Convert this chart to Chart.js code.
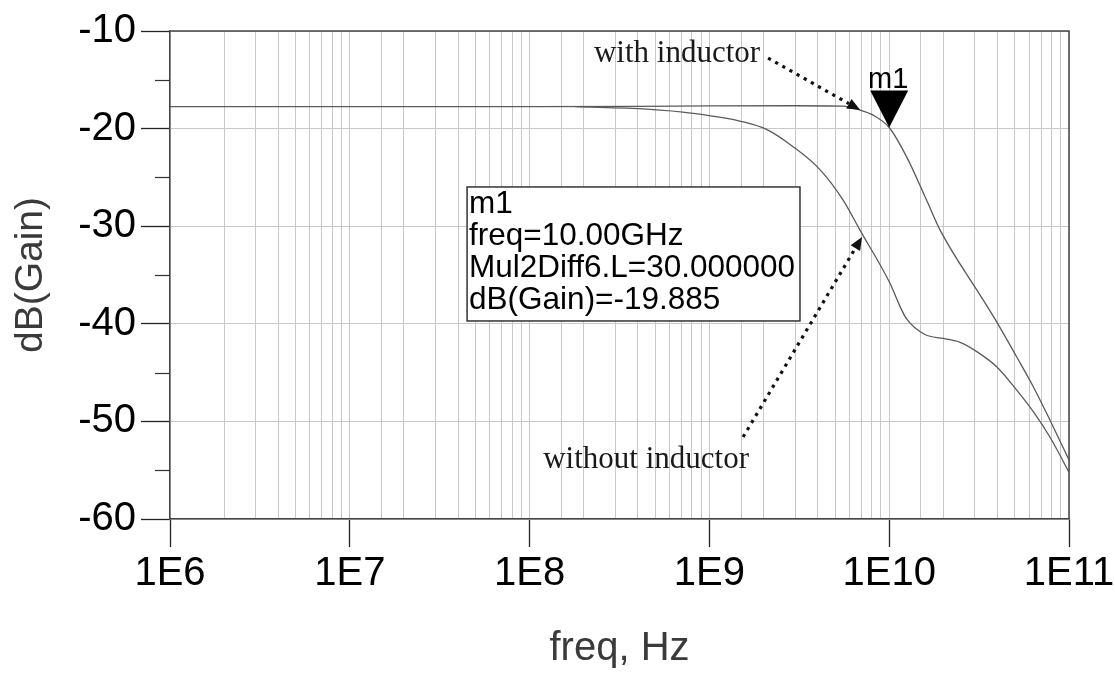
<!DOCTYPE html>
<html>
<head>
<meta charset="utf-8">
<script src="https://cdn.jsdelivr.net/npm/chart.js@4"></script>
<style>
  html, body { margin: 0; padding: 0; background: #fff; }
  canvas { display: block; }
</style>
</head>
<body>
<canvas id="gainChart" width="1115" height="673"></canvas>
<script>
// ── Data ──────────────────────────────────────────────────────────────────────
const freqWith    = [1e6, 1e7, 1e8, 4e8, 1e9, 3e9, 5.5e9, 6.9e9, 8.1e9, 1e10, 1.25e10, 1.62e10, 1.92e10, 3.33e10, 3.96e10, 5.12e10, 6.33e10, 7.83e10, 1e11];
const gainWith    = [-17.75, -17.75, -17.75, -17.72, -17.68, -17.66, -17.7, -18.1, -18.6, -19.885, -22.9, -27.4, -30.4, -37.55, -39.8, -43.4, -46.45, -49.85, -53.95];
const freqWithout = [1.79e8, 4.5e8, 8.1e8, 1.54e9, 2.09e9, 2.92e9, 4.12e9, 5.53e9, 6.88e9, 1.01e10, 1.15e10, 1.25e10, 1.58e10, 2.0e10, 2.48e10, 3.07e10, 3.96e10, 5.12e10, 6.33e10, 7.83e10, 1e11];
const gainWithout = [-17.75, -18.0, -18.43, -19.3, -20.1, -21.85, -24.2, -27.3, -30.4, -35.85, -38.25, -39.5, -41.1, -41.5, -41.9, -42.85, -44.4, -46.8, -49.0, -51.6, -55.2];

const yMinorTicks = [-15, -25, -35, -45, -55];

const markerName  = "m1";
const markerFreq  = 1e10;
const markerGain  = -19.885;
const markerLines = ["m1", "freq=10.00GHz", "Mul2Diff6.L=30.000000", "dB(Gain)=-19.885"];

const labelWith    = "with inductor";
const labelWithout = "without inductor";

const SANS  = '"Liberation Sans", Arial, sans-serif';
const SERIF = '"Liberation Serif", "Times New Roman", serif';
const CURVE = "#5a5a5a";
const FRAME = "#444";
const GRID  = "#c8c8c8";

const toPoints = (xs, ys) => xs.map((x, i) => ({ x, y: ys[i] }));
const isDecade = v => Math.abs(Math.log10(v) - Math.round(Math.log10(v))) < 1e-9;

// ── Overlay: frame, minor ticks, marker, readout box, labels ────────────────
function dottedArrow(ctx, x0, y0, x1, y1) {
  const ang = Math.atan2(y1 - y0, x1 - x0);
  const head = 13, half = 5.5;
  const bx = x1 - head * Math.cos(ang), by = y1 - head * Math.sin(ang);
  ctx.save();
  ctx.strokeStyle = "#111";
  ctx.lineWidth = 3.2;
  ctx.setLineDash([3.2, 5]);
  ctx.beginPath(); ctx.moveTo(x0, y0); ctx.lineTo(bx, by); ctx.stroke();
  ctx.setLineDash([]);
  ctx.fillStyle = "#111";
  ctx.beginPath();
  ctx.moveTo(x1, y1);
  ctx.lineTo(bx + half * Math.sin(ang), by - half * Math.cos(ang));
  ctx.lineTo(bx - half * Math.sin(ang), by + half * Math.cos(ang));
  ctx.closePath(); ctx.fill();
  ctx.restore();
}

const overlay = {
  id: "overlay",
  afterDraw(chart) {
    const { ctx, chartArea: a, scales: { x, y } } = chart;
    const px = f => x.getPixelForValue(f);
    const py = g => y.getPixelForValue(g);
    ctx.save();

    // top / right edges of the frame
    ctx.strokeStyle = FRAME; ctx.lineWidth = 1.5;
    ctx.beginPath();
    ctx.moveTo(a.left, a.top); ctx.lineTo(a.right, a.top); ctx.lineTo(a.right, a.bottom);
    ctx.stroke();

    // short minor ticks on the left axis
    ctx.strokeStyle = "#333"; ctx.lineWidth = 1.2;
    yMinorTicks.forEach(v => {
      const yy = Math.round(py(v)) + 0.5;
      ctx.beginPath(); ctx.moveTo(a.left - 15, yy); ctx.lineTo(a.left, yy); ctx.stroke();
    });

    // m1 marker: downward triangle with tip on the curve
    const mx = px(markerFreq), my = py(markerGain);
    ctx.fillStyle = "#000";
    ctx.beginPath();
    ctx.moveTo(mx, my); ctx.lineTo(mx - 19, my - 37); ctx.lineTo(mx + 19, my - 37);
    ctx.closePath(); ctx.fill();
    ctx.font = "29px " + SANS;
    ctx.textAlign = "center"; ctx.textBaseline = "alphabetic";
    ctx.fillText(markerName, mx - 1, my - 39);

    // marker readout box
    const bl = px(4.49e7), bt = py(-25.98), br = px(3.19e9), bb = py(-39.71);
    ctx.fillStyle = "#fff";
    ctx.fillRect(bl, bt, br - bl, bb - bt);
    ctx.strokeStyle = "#333"; ctx.lineWidth = 1.5;
    ctx.strokeRect(bl, bt, br - bl, bb - bt);
    ctx.fillStyle = "#000";
    ctx.font = "31.5px " + SANS;
    ctx.textAlign = "left";
    markerLines.forEach((t, i) => ctx.fillText(t, bl + 2, bt + 26.5 + i * 31.7));

    // curve labels with dotted arrows
    ctx.fillStyle = "#1a1a1a";
    ctx.font = "31px " + SERIF;
    ctx.fillText(labelWith, px(2.28e8), py(-13.18));
    dottedArrow(ctx, px(2.12e9), py(-12.77), px(6.9e9), py(-18.1));

    ctx.fillText(labelWithout, px(1.19e8), py(-54.77));
    dottedArrow(ctx, px(1.54e9), py(-51.6), px(7.06e9), py(-31.1));

    ctx.restore();
  }
};

// ── Chart ─────────────────────────────────────────────────────────────────────
const lineStyle = {
  borderColor: CURVE, borderWidth: 1.3, pointRadius: 0,
  fill: false, cubicInterpolationMode: "monotone",
};

new Chart(document.getElementById("gainChart"), {
  type: "line",
  data: {
    datasets: [
      { label: labelWith,    data: toPoints(freqWith, gainWith),       ...lineStyle },
      { label: labelWithout, data: toPoints(freqWithout, gainWithout), ...lineStyle },
    ],
  },
  options: {
    responsive: false,
    animation: false,
    events: [],
    layout: { padding: { left: 0, right: 46, top: 31, bottom: 0 } },
    plugins: { legend: { display: false }, tooltip: { enabled: false } },
    scales: {
      x: {
        type: "logarithmic",
        min: 1e6, max: 1e11,
        afterFit: s => { s.height = 154; s.paddingLeft = 0; s.paddingRight = 0; },
        grid: {
          color: GRID, lineWidth: 1,
          drawTicks: true, tickLength: 28,
          tickColor: ctx => (ctx.tick && isDecade(ctx.tick.value)) ? "#222" : "rgba(0,0,0,0)",
          tickWidth: 1.3,
        },
        border: { display: true, color: FRAME, width: 1.5 },
        ticks: {
          autoSkip: false, maxRotation: 0, padding: 3,
          color: "#000", font: { family: SANS, size: 40 },
          callback: v => isDecade(v) ? "1E" + Math.round(Math.log10(v)) : "",
        },
        title: {
          display: true, text: "freq, Hz", color: "#3a3a3a",
          font: { family: SANS, size: 40 }, padding: { top: 0, bottom: 0 },
        },
      },
      y: {
        min: -60, max: -10,
        afterFit: s => { s.width = 170; },
        grid: { color: GRID, lineWidth: 1, drawTicks: true, tickLength: 29, tickColor: "#222", tickWidth: 1.3 },
        border: { display: true, color: FRAME, width: 1.5 },
        ticks: {
          stepSize: 10, padding: 5,
          color: "#000", font: { family: SANS, size: 40 },
        },
        title: {
          display: true, text: "dB(Gain)", color: "#3a3a3a",
          font: { family: SANS, size: 39 }, padding: { top: 8, bottom: 0 },
        },
      },
    },
  },
  plugins: [overlay],
});
</script>
</body>
</html>
